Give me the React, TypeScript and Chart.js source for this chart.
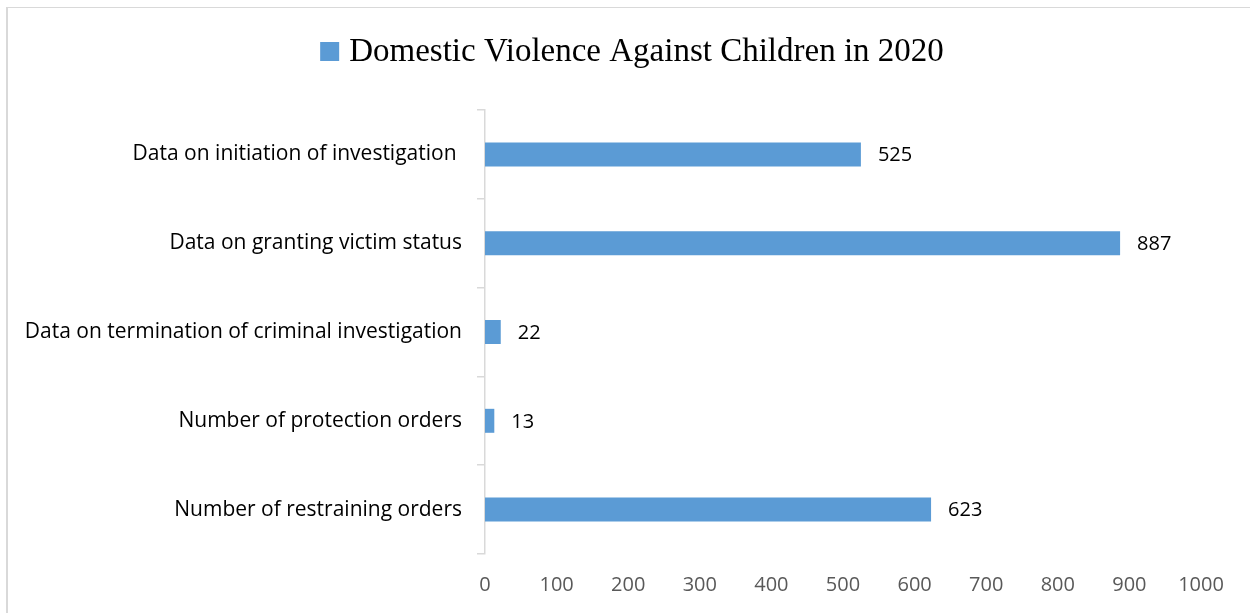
import React, { useEffect, useRef } from "react";
import { Chart, registerables } from "chart.js";

Chart.register(...registerables);

const categories = [
  "Data on initiation of investigation ",
  "Data on granting victim status",
  "Data on termination of criminal investigation",
  "Number of protection orders",
  "Number of restraining orders",
];
const seriesLabel = "Domestic Violence Against Children in 2020";
const seriesValues = [525, 887, 22, 13, 623];
const xTickMin = 0;
const xTickMax = 1000;
const xTickStep = 100;

const BAR_COLOR = "#5B9BD5";
const AXIS_COLOR = "#D9D9D9";
const SANS = "'Open Sans', 'Noto Sans', sans-serif";
const SERIF = "'Liberation Serif', 'DejaVu Serif', serif";

// Legend drawn at the top as in the reference (series box + series name)
const topLegend = {
  id: "topLegend",
  afterDraw(chart: any) {
    const ctx = chart.ctx;
    const ds = chart.data.datasets[0];
    ctx.save();
    ctx.font = `33px ${SERIF}`;
    const text = ds.label as string;
    const tw = ctx.measureText(text).width;
    const box = 19;
    const gap = 10;
    const total = box + gap + tw;
    const cx = 632;
    const x0 = cx - total / 2;
    const baseline = 61;
    ctx.fillStyle = ds.backgroundColor;
    ctx.fillRect(x0, baseline - box, box, box);
    ctx.fillStyle = "#000000";
    ctx.textAlign = "left";
    ctx.textBaseline = "alphabetic";
    ctx.fillText(text, x0 + box + gap, baseline);
    ctx.restore();
  },
};

const valueLabels = {
  id: "valueLabels",
  afterDatasetsDraw(chart: any) {
    const ctx = chart.ctx;
    const meta = chart.getDatasetMeta(0);
    const data = chart.data.datasets[0].data as number[];
    ctx.save();
    ctx.font = `20px ${SANS}`;
    ctx.fillStyle = "#000000";
    ctx.textAlign = "left";
    ctx.textBaseline = "middle";
    meta.data.forEach((el: any, i: number) => {
      ctx.fillText(String(data[i]), el.x + 17, el.y + 1);
    });
    ctx.restore();
  },
};

export default function App() {
  const ref = useRef<HTMLCanvasElement | null>(null);
  useEffect(() => {
    if (!ref.current) return;
    const chart = new Chart(ref.current, {
      type: "bar",
      data: {
        labels: categories,
        datasets: [
          {
            label: seriesLabel,
            data: seriesValues,
            backgroundColor: BAR_COLOR,
            borderWidth: 0,
            barPercentage: 0.27,
            categoryPercentage: 1,
          },
        ],
      },
      options: {
        indexAxis: "y",
        animation: false,
        responsive: false,
        maintainAspectRatio: false,
        layout: { padding: { top: 110, left: 0, right: 49, bottom: 0 } },
        plugins: {
          legend: { display: false },
          tooltip: { enabled: false },
        },
        scales: {
          x: {
            type: "linear",
            position: "bottom",
            min: xTickMin,
            max: xTickMax,
            ticks: {
              stepSize: xTickStep,
              color: "#595959",
              font: { family: SANS, size: 20 },
              padding: 19,
              callback: (v: any) => String(v),
            },
            grid: { display: false, drawTicks: false },
            border: { display: false },
            afterFit(scale: any) {
              scale.height = 59;
            },
          },
          y: {
            type: "category",
            position: "left",
            offset: true,
            ticks: {
              color: "#000000",
              font: { family: SANS, size: 21 },
              padding: 15,
            },
            grid: {
              display: true,
              drawOnChartArea: false,
              drawTicks: true,
              tickLength: 8,
              color: AXIS_COLOR,
              lineWidth: 1.5,
              offset: true,
            },
            border: { display: true, color: AXIS_COLOR, width: 1.5 },
            afterFit(scale: any) {
              scale.width = 485;
            },
          },
        },
      },
      plugins: [valueLabels, topLegend],
    });
    return () => chart.destroy();
  }, []);

  return (
    <div style={{ position: "fixed", left: 0, top: 0, width: 1250, height: 613, background: "#fff" }}>
      <div
        style={{
          position: "absolute",
          left: 6,
          top: 7,
          width: 1400,
          height: 800,
          borderTop: "1px solid #D9D9D9",
          borderLeft: "2px solid #D9D9D9",
          boxSizing: "border-box",
        }}
      />
      <canvas ref={ref} width={1250} height={613} style={{ position: "absolute", left: 0, top: 0 }} />
    </div>
  );
}
